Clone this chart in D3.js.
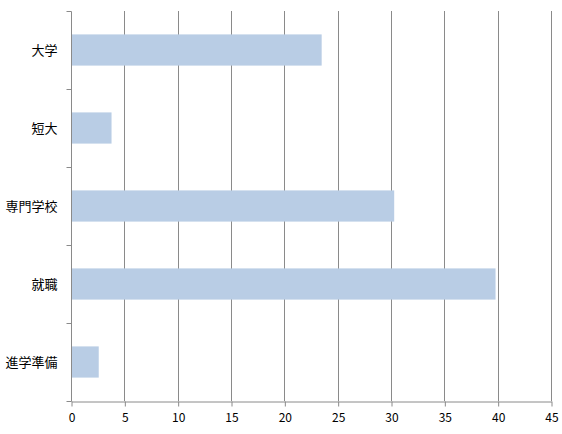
<!DOCTYPE html>
<html><head><meta charset="utf-8">
<script src="https://cdn.jsdelivr.net/npm/d3@7"></script>
<style>body{margin:0;background:#fff}svg{display:block}</style>
</head><body>
<svg id="c" width="562" height="434"></svg>
<script>
const categories = ["大学","短大","専門学校","就職","進学準備"];
const values = [23.5, 3.8, 30.3, 39.8, 2.6];
const xTicks = [0,5,10,15,20,25,30,35,40,45];

const svg = d3.select("#c");
const m = {left:71, right:11, top:11, bottom:33};
const W = 562, H = 434;
const x = d3.scaleLinear().domain([0,45]).range([m.left, W-m.right]);
const y = d3.scaleBand().domain(categories).range([m.top, H-m.bottom]).paddingInner(0.6).paddingOuter(0.3);
const yb = d3.scaleBand().domain(categories).range([m.top, H-m.bottom]);
const gray = "#8a8a8a";
const font = "'Noto Sans CJK JP', 'Noto Sans', sans-serif";

// gridlines
svg.append("g").selectAll("line").data(xTicks.slice(1)).join("line")
  .attr("x1", d=>Math.round(x(d))+0.5).attr("x2", d=>Math.round(x(d))+0.5)
  .attr("y1", m.top).attr("y2", H-m.bottom)
  .attr("stroke", gray).attr("stroke-width",1);

// bars
svg.append("g").selectAll("rect").data(categories).join("rect")
  .attr("x", x(0)).attr("y", d=>y(d))
  .attr("width", (d,i)=>x(values[i])-x(0)).attr("height", y.bandwidth())
  .attr("fill", "#B9CDE5");

// x axis
const xa = svg.append("g").attr("transform", `translate(0.5,${H-m.bottom+0.5})`)
  .call(d3.axisBottom(x).tickValues(xTicks).tickSize(5).tickSizeOuter(0).tickPadding(7));
xa.select(".domain").attr("stroke", gray);
xa.selectAll(".tick line").attr("stroke", gray);
xa.selectAll("text").attr("font-family", font).attr("font-size", 12).attr("fill","#000");

// y axis
const ya = svg.append("g").attr("transform", `translate(${m.left+0.5},0.5)`);
ya.append("line").attr("x1",0).attr("x2",0).attr("y1",m.top).attr("y2",H-m.bottom).attr("stroke",gray);
const bounds = categories.map(c=>yb(c)).concat([H-m.bottom]);
ya.selectAll("line.t").data(bounds).join("line").attr("class","t")
  .attr("x1",-5).attr("x2",0).attr("y1",d=>Math.round(d)).attr("y2",d=>Math.round(d)).attr("stroke",gray);
ya.selectAll("text").data(categories).join("text")
  .attr("x",-14).attr("y",d=>y(d)+y.bandwidth()/2)
  .attr("dy","0.35em").attr("text-anchor","end")
  .attr("font-family",font).attr("font-size",13).attr("fill","#000")
  .text(d=>d);
</script>
</body></html>
